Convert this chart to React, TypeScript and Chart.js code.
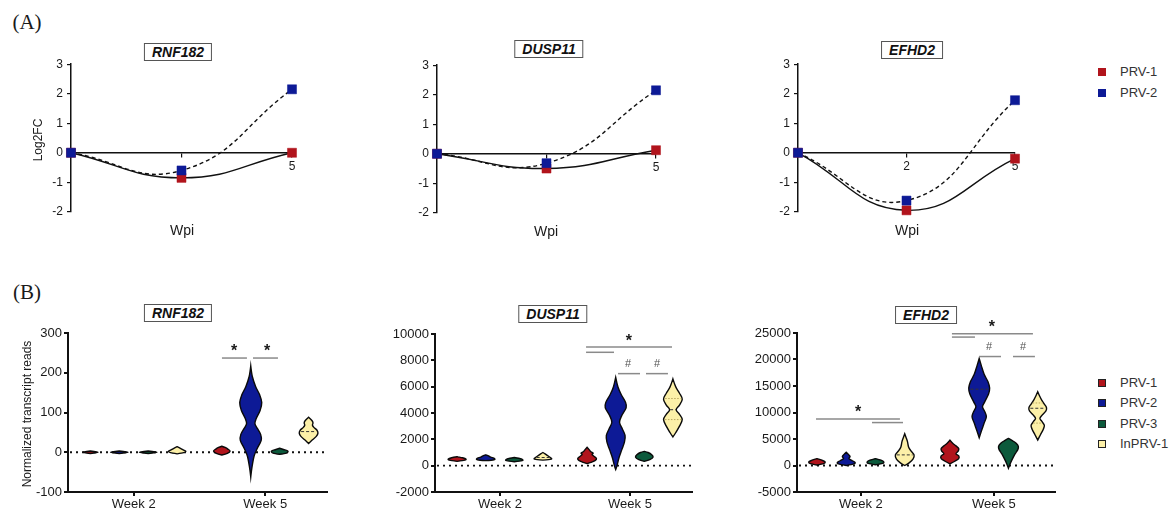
import React, { useEffect, useRef } from 'react';
import { Chart, registerables } from 'chart.js';

Chart.register(...registerables);

const SANS = '"Liberation Sans", Arial, Helvetica, sans-serif';
const SERIF = '"Liberation Serif", "Times New Roman", serif';

const RED = '#b1141c';
const BLUE = '#0d1a96';
const GREEN = '#0c5a3c';
const YELLOW = '#fcf0a8';
const GROUP_COLORS = [RED, BLUE, GREEN, YELLOW];
const GROUP_NAMES = ['PRV-1', 'PRV-2', 'PRV-3', 'InPRV-1'];

// ---------------- Panel A data (Log2FC by weeks post infection) ----------------
const wpiLabels = ['0', '2', '5'];
const log2fcTicks = [-2, -1, 0, 1, 2, 3];
const rnf182Prv1 = [0, -0.85, 0];
const rnf182Prv2 = [0, -0.6, 2.15];
const dusp11Prv1 = [0, -0.5, 0.12];
const dusp11Prv2 = [0, -0.32, 2.15];
const efhd2Prv1 = [0, -1.95, -0.2];
const efhd2Prv2 = [0, -1.62, 1.78];

// ---------------- Panel B data (violins: [value, relative density]) ----------------
type Profile = [number, number][];
const weekTickValues = [1, 2];
const weekTickLabels = ['Week 2', 'Week 5'];

const rnf182Ticks = [-100, 0, 100, 200, 300];
const rnf182Week2: Profile[] = [
  [[-3, 0], [0, 0.7], [3, 0]],
  [[-3, 0], [0, 0.8], [3, 0]],
  [[-3, 0], [0, 0.8], [3, 0]],
  [[-4, 0], [-1, 0.6], [2, 0.8], [6, 0.55], [10, 0.3], [14, 0]],
];
const rnf182Week5: Profile[] = [
  [[-7, 0], [-3, 0.5], [3, 0.75], [8, 0.55], [12, 0.3], [15, 0]],
  [[-62, 0], [-40, 0.1], [-10, 0.3], [10, 0.6], [30, 0.95], [45, 0.9], [60, 0.6], [72, 0.38], [85, 0.5], [105, 0.85], [125, 1.0], [145, 0.8], [165, 0.45], [190, 0.15], [217, 0]],
  [[-5, 0], [-2, 0.6], [3, 0.75], [7, 0.35], [10, 0]],
  [[22, 0], [30, 0.3], [40, 0.7], [48, 0.85], [56, 0.75], [62, 0.5], [68, 0.35], [74, 0.4], [80, 0.3], [88, 0]],
];
const rnf182Medians: [number, number, number][] = [[2, 3, 52]];
const rnf182Quartiles: [number, number, number][] = [];
const rnf182Brackets: [number, number, number][] = [[1.671, 1.861, 237], [1.907, 2.097, 237]];
const rnf182Marks: [number, number, string][] = [[1.763, 262, '*'], [2.014, 262, '*']];

const dusp11Ticks = [-2000, 0, 2000, 4000, 6000, 8000, 10000];
const dusp11Week2: Profile[] = [
  [[330, 0], [420, 0.7], [500, 0.8], [600, 0.5], [680, 0]],
  [[380, 0], [450, 0.75], [550, 0.8], [650, 0.45], [750, 0.25], [820, 0]],
  [[300, 0], [380, 0.7], [470, 0.75], [560, 0.4], [620, 0]],
  [[420, 0], [500, 0.75], [600, 0.7], [750, 0.45], [900, 0.2], [1000, 0]],
];
const dusp11Week5: Profile[] = [
  [[150, 0], [250, 0.35], [400, 0.75], [550, 0.85], [700, 0.65], [850, 0.45], [950, 0.55], [1050, 0.35], [1200, 0.2], [1400, 0]],
  [[-300, 0], [0, 0.12], [600, 0.3], [1200, 0.55], [1800, 0.8], [2300, 0.85], [2800, 0.6], [3300, 0.35], [3800, 0.55], [4400, 0.95], [4800, 0.9], [5400, 0.5], [6000, 0.2], [6700, 0]],
  [[330, 0], [450, 0.5], [650, 0.8], [850, 0.65], [1000, 0.35], [1090, 0]],
  [[2180, 0], [2500, 0.25], [3000, 0.6], [3500, 0.85], [3900, 0.6], [4250, 0.3], [4600, 0.6], [5050, 0.85], [5500, 0.6], [6000, 0.25], [6590, 0]],
];
const dusp11Medians: [number, number, number][] = [[1, 3, 620], [2, 3, 4250]];
const dusp11Quartiles: [number, number, number][] = [[2, 3, 3500], [2, 3, 5100]];
const dusp11Brackets: [number, number, number][] = [[1.662, 2.323, 9020], [1.662, 1.877, 8610], [1.908, 2.077, 6990], [2.123, 2.292, 6990]];
const dusp11Marks: [number, number, string][] = [[1.992, 9730, '*'], [1.985, 7830, '#'], [2.208, 7830, '#']];

const efhd2Ticks = [-5000, 0, 5000, 10000, 15000, 20000, 25000];
const efhd2Week2: Profile[] = [
  [[100, 0], [350, 0.6], [650, 0.75], [950, 0.5], [1300, 0]],
  [[0, 0], [300, 0.7], [600, 0.8], [900, 0.55], [1300, 0.25], [1700, 0.35], [2100, 0.2], [2500, 0]],
  [[150, 0], [400, 0.65], [700, 0.75], [1000, 0.5], [1300, 0]],
  [[0, 0], [500, 0.4], [1200, 0.75], [2000, 0.85], [2800, 0.55], [3500, 0.35], [4500, 0.25], [5300, 0.12], [6000, 0]],
];
const efhd2Week5: Profile[] = [
  [[300, 0], [800, 0.45], [1300, 0.8], [1800, 0.8], [2200, 0.55], [2700, 0.75], [3200, 0.8], [3700, 0.55], [4200, 0.25], [4800, 0]],
  [[5250, 0], [6500, 0.2], [8000, 0.45], [9200, 0.65], [10200, 0.5], [11100, 0.3], [12000, 0.5], [13500, 0.85], [14600, 0.95], [15800, 0.8], [17200, 0.45], [18800, 0.2], [20200, 0]],
  [[-500, 0], [300, 0.15], [1200, 0.35], [2200, 0.6], [3000, 0.85], [3600, 0.9], [4200, 0.7], [4700, 0.35], [5100, 0]],
  [[4800, 0], [5800, 0.25], [6800, 0.5], [7600, 0.6], [8400, 0.35], [8900, 0.2], [9500, 0.4], [10300, 0.75], [10900, 0.8], [11600, 0.6], [12400, 0.35], [13200, 0.15], [13900, 0]],
];
const efhd2Medians: [number, number, number][] = [[1, 3, 2000], [2, 3, 10800], [2, 1, 14400]];
const efhd2Quartiles: [number, number, number][] = [[2, 3, 8000], [2, 3, 11800]];
const efhd2Brackets: [number, number, number][] = [[0.663, 1.294, 8790], [1.084, 1.317, 8100], [1.685, 2.294, 24860], [1.685, 1.858, 24230], [1.888, 2.054, 20560], [2.144, 2.309, 20560]];
const efhd2Marks: [number, number, string][] = [[0.979, 10680, '*'], [1.986, 26750, '*'], [1.964, 22590, '#'], [2.219, 22590, '#']];

// ---------------- styles ----------------
const GROUP_STEP = 0.22; // x-axis units between violins of a week
const VIOLIN_HALF_PX = 11;

type Area = { l: number; r: number; t: number; b: number };

function FoldChangePanel({ area, prv1, prv2, shown }: { area: Area; prv1: number[]; prv2: number[]; shown: string[] }) {
  const ref = useRef<HTMLCanvasElement | null>(null);
  const YW = 30;
  const pad = { left: 4, right: 14, top: 10, bottom: 10 };
  const width = area.r - area.l + YW + pad.left + pad.right;
  const height = area.b - area.t + pad.top + pad.bottom;
  useEffect(() => {
    const tickFont = { family: SANS, size: 12 };
    const chart = new Chart(ref.current as HTMLCanvasElement, {
      type: 'line',
      data: {
        labels: wpiLabels,
        datasets: [
          {
            label: 'PRV-2', data: prv2, order: 0, borderColor: '#111', borderWidth: 1.4, borderDash: [4, 3],
            tension: 0.45, pointStyle: 'rect', pointRadius: 6.4, pointBackgroundColor: BLUE, pointBorderColor: BLUE,
            pointBorderWidth: 0.5, clip: false, fill: false,
          } as any,
          {
            label: 'PRV-1', data: prv1, order: 1, borderColor: '#111', borderWidth: 1.4,
            tension: 0.45, pointStyle: 'rect', pointRadius: 6.4, pointBackgroundColor: RED, pointBorderColor: RED,
            pointBorderWidth: 0.5, clip: false, fill: false,
          } as any,
        ],
      },
      options: {
        animation: false,
        responsive: false,
        maintainAspectRatio: false,
        layout: { padding: pad },
        plugins: { legend: { display: false }, tooltip: { enabled: false } },
        scales: {
          x: {
            type: 'category',
            position: { y: 0 } as any,
            offset: false,
            grid: { display: true, drawOnChartArea: false, drawTicks: true, tickLength: 4, color: '#111', lineWidth: 1.2 },
            border: { display: true, color: '#111', width: 1.5 },
            ticks: {
              autoSkip: false, maxRotation: 0, padding: 3, color: '#1a1a1a', font: tickFont,
              callback: (_v: any, i: number) => (shown.includes(wpiLabels[i]) ? wpiLabels[i] : ''),
            },
          },
          y: {
            type: 'linear',
            min: log2fcTicks[0],
            max: log2fcTicks[log2fcTicks.length - 1],
            afterBuildTicks: (s: any) => { s.ticks = log2fcTicks.map((v) => ({ value: v })); },
            afterFit: (s: any) => { s.width = YW; },
            grid: { display: true, drawOnChartArea: false, drawTicks: true, tickLength: 4, color: '#111', lineWidth: 1.2 },
            border: { display: true, color: '#111', width: 1.5 },
            ticks: { padding: 4, color: '#1a1a1a', font: tickFont },
          },
        },
      } as any,
    });
    return () => chart.destroy();
  }, []);
  return (
    <canvas
      ref={ref}
      width={width}
      height={height}
      style={{ position: 'absolute', left: area.l - YW - pad.left, top: area.t - pad.top, width, height }}
    />
  );
}

function catmullClosed(ctx: CanvasRenderingContext2D, pts: [number, number, boolean][]) {
  const n = pts.length;
  const tan = pts.map((p, i) => {
    if (p[2]) return [0, 0];
    const a = pts[(i - 1 + n) % n];
    const b = pts[(i + 1) % n];
    return [(b[0] - a[0]) / 6, (b[1] - a[1]) / 6];
  });
  ctx.moveTo(pts[0][0], pts[0][1]);
  for (let i = 0; i < n; i++) {
    const p1 = pts[i];
    const p2 = pts[(i + 1) % n];
    const t1 = tan[i];
    const t2 = tan[(i + 1) % n];
    ctx.bezierCurveTo(p1[0] + t1[0], p1[1] + t1[1], p2[0] - t2[0], p2[1] - t2[1], p2[0], p2[1]);
  }
  ctx.closePath();
}

function densityAt(profile: Profile, v: number) {
  for (let i = 0; i < profile.length - 1; i++) {
    const [a, da] = profile[i];
    const [b, db] = profile[i + 1];
    if (v >= a && v <= b) return da + ((db - da) * (v - a)) / (b - a);
  }
  return 0;
}

type ViolinProps = {
  area: Area;
  xMin: number;
  xMax: number;
  yTicks: number[];
  week2: Profile[];
  week5: Profile[];
  medians: [number, number, number][];
  quartiles: [number, number, number][];
  brackets: [number, number, number][];
  marks: [number, number, string][];
};

function ViolinPanel(props: ViolinProps) {
  const { area, xMin, xMax, yTicks, week2, week5, medians, quartiles, brackets, marks } = props;
  const ref = useRef<HTMLCanvasElement | null>(null);
  const YW = 45;
  const XH = 22;
  const pad = { left: 2, right: 12, top: 24, bottom: 0 };
  const width = area.r - area.l + YW + pad.left + pad.right;
  const height = area.b - area.t + pad.top + pad.bottom + XH;
  useEffect(() => {
    const tickFont = { family: SANS, size: 13 };
    const weeks = [week2, week5];
    const plugin = {
      id: 'violins',
      afterDatasetsDraw(chart: any) {
        const ctx: CanvasRenderingContext2D = chart.ctx;
        const xs = chart.scales.x;
        const ys = chart.scales.y;
        const ca = chart.chartArea;
        ctx.save();
        // dotted zero line
        ctx.beginPath();
        ctx.setLineDash([2, 4]);
        ctx.lineWidth = 1.8;
        ctx.strokeStyle = '#111';
        const y0 = ys.getPixelForValue(0);
        ctx.moveTo(ca.left + 2, y0);
        ctx.lineTo(ca.right, y0);
        ctx.stroke();
        ctx.setLineDash([]);
        // violins
        const centerOf = (week: number, g: number) => xs.getPixelForValue(weekTickValues[week - 1] + (g - 1.5) * GROUP_STEP);
        weeks.forEach((profiles, wi) => {
          profiles.forEach((profile, g) => {
            const cx = centerOf(wi + 1, g);
            const right: [number, number, boolean][] = profile.map(([v, d]) => [cx + d * VIOLIN_HALF_PX, ys.getPixelForValue(v), d === 0]);
            const left: [number, number, boolean][] = profile
              .slice(1, -1)
              .reverse()
              .map(([v, d]) => [cx - d * VIOLIN_HALF_PX, ys.getPixelForValue(v), false]);
            const pts = right.concat(left);
            ctx.beginPath();
            catmullClosed(ctx, pts);
            ctx.fillStyle = GROUP_COLORS[g];
            ctx.fill();
            ctx.lineWidth = 1.4;
            ctx.strokeStyle = '#0a0a0a';
            ctx.stroke();
          });
        });
        const drawInner = (list: [number, number, number][], dash: number[], color: string) => {
          list.forEach(([week, g, v]) => {
            const profile = weeks[week - 1][g];
            const cx = centerOf(week, g);
            const w = densityAt(profile, v) * VIOLIN_HALF_PX * 0.85;
            const py = ys.getPixelForValue(v);
            ctx.beginPath();
            ctx.setLineDash(dash);
            ctx.lineWidth = 1;
            ctx.strokeStyle = color;
            ctx.moveTo(cx - w, py);
            ctx.lineTo(cx + w, py);
            ctx.stroke();
          });
          ctx.setLineDash([]);
        };
        drawInner(quartiles, [1.5, 1.5], '#b9a860');
        drawInner(medians, [3, 2], '#333');
        // significance brackets
        ctx.strokeStyle = '#8a8a8a';
        ctx.lineWidth = 1.5;
        brackets.forEach(([x1, x2, v]) => {
          const py = ys.getPixelForValue(v);
          ctx.beginPath();
          ctx.moveTo(xs.getPixelForValue(x1), py);
          ctx.lineTo(xs.getPixelForValue(x2), py);
          ctx.stroke();
        });
        ctx.textAlign = 'center';
        ctx.textBaseline = 'alphabetic';
        marks.forEach(([x, v, t]) => {
          const px = xs.getPixelForValue(x);
          const py = ys.getPixelForValue(v);
          if (t === '*') {
            ctx.font = `bold 16px ${SANS}`;
            ctx.fillStyle = '#1a1a1a';
            ctx.fillText(t, px, py + 8);
          } else {
            ctx.font = `11px ${SANS}`;
            ctx.fillStyle = '#555';
            ctx.fillText(t, px, py + 4);
          }
        });
        ctx.restore();
      },
    };
    const chart = new Chart(ref.current as HTMLCanvasElement, {
      type: 'scatter',
      data: { datasets: [] },
      options: {
        animation: false,
        responsive: false,
        maintainAspectRatio: false,
        layout: { padding: pad },
        plugins: { legend: { display: false }, tooltip: { enabled: false } },
        scales: {
          x: {
            type: 'linear',
            min: xMin,
            max: xMax,
            afterBuildTicks: (s: any) => { s.ticks = weekTickValues.map((v) => ({ value: v })); },
            afterFit: (s: any) => { s.height = XH; },
            grid: { display: true, drawOnChartArea: false, drawTicks: true, tickLength: 4, color: '#111', lineWidth: 2 },
            border: { display: true, color: '#111', width: 2 },
            ticks: {
              autoSkip: false, maxRotation: 0, padding: 1, color: '#1a1a1a', font: tickFont,
              callback: (v: any) => weekTickLabels[weekTickValues.indexOf(Number(v))] ?? '',
            },
          },
          y: {
            type: 'linear',
            min: yTicks[0],
            max: yTicks[yTicks.length - 1],
            afterBuildTicks: (s: any) => { s.ticks = yTicks.map((v) => ({ value: v })); },
            afterFit: (s: any) => { s.width = YW; },
            grid: { display: true, drawOnChartArea: false, drawTicks: true, tickLength: 4, color: '#111', lineWidth: 2 },
            border: { display: true, color: '#111', width: 2 },
            ticks: { padding: 2, color: '#1a1a1a', font: tickFont, callback: (v: any) => String(v) },
          },
        },
      } as any,
      plugins: [plugin],
    });
    return () => chart.destroy();
  }, []);
  return (
    <canvas
      ref={ref}
      width={width}
      height={height}
      style={{ position: 'absolute', left: area.l - YW - pad.left, top: area.t - pad.top, width, height }}
    />
  );
}

function TitleBox({ x, y, text }: { x: number; y: number; text: string }) {
  return (
    <div
      style={{
        position: 'absolute', left: x, top: y, transform: 'translate(-50%, -50%)',
        border: '1px solid #555', padding: '0 7px', font: `italic bold 14px ${SANS}`, lineHeight: '16px',
        background: '#fff', color: '#111', whiteSpace: 'nowrap',
      }}
    >
      {text}
    </div>
  );
}

function Label({ x, y, text, size, rotate, family }: { x: number; y: number; text: string; size: number; rotate?: boolean; family?: string }) {
  return (
    <div
      style={{
        position: 'absolute', left: x, top: y,
        transform: `translate(-50%, -50%)${rotate ? ' rotate(-90deg)' : ''}`,
        font: `${size}px ${family || SANS}`, color: '#1a1a1a', whiteSpace: 'nowrap', lineHeight: `${size + 2}px`,
      }}
    >
      {text}
    </div>
  );
}

function Legend({ x, ys, names, colors, border }: { x: number; ys: number[]; names: string[]; colors: string[]; border: boolean }) {
  return (
    <>
      {names.map((n, i) => (
        <React.Fragment key={n}>
          <div
            style={{
              position: 'absolute', left: x - 4, top: ys[i] - 4, width: border ? 6 : 8, height: border ? 6 : 8,
              background: colors[i], border: border ? '1px solid #222' : 'none',
            }}
          />
          <div style={{ position: 'absolute', left: x + 18, top: ys[i] - 8, font: `13px ${SANS}`, lineHeight: '16px', color: '#333', whiteSpace: 'nowrap' }}>
            {n}
          </div>
        </React.Fragment>
      ))}
    </>
  );
}

export default function App() {
  return (
    <div style={{ position: 'absolute', left: 0, top: 0, width: 1174, height: 510, background: '#fff', overflow: 'hidden' }}>
      <FoldChangePanel area={{ l: 71, r: 292, t: 63, b: 213 }} prv1={rnf182Prv1} prv2={rnf182Prv2} shown={['5']} />
      <FoldChangePanel area={{ l: 437, r: 656, t: 64, b: 214 }} prv1={dusp11Prv1} prv2={dusp11Prv2} shown={['5']} />
      <FoldChangePanel area={{ l: 798, r: 1015, t: 63, b: 213 }} prv1={efhd2Prv1} prv2={efhd2Prv2} shown={['2', '5']} />

      <ViolinPanel area={{ l: 68, r: 327, t: 333, b: 492 }} xMin={0.5} xMax={2.47} yTicks={rnf182Ticks}
        week2={rnf182Week2} week5={rnf182Week5} medians={rnf182Medians} quartiles={rnf182Quartiles}
        brackets={rnf182Brackets} marks={rnf182Marks} />
      <ViolinPanel area={{ l: 435, r: 692, t: 334, b: 492 }} xMin={0.5} xMax={2.477} yTicks={dusp11Ticks}
        week2={dusp11Week2} week5={dusp11Week5} medians={dusp11Medians} quartiles={dusp11Quartiles}
        brackets={dusp11Brackets} marks={dusp11Marks} />
      <ViolinPanel area={{ l: 797, r: 1055, t: 333, b: 492 }} xMin={0.52} xMax={2.46} yTicks={efhd2Ticks}
        week2={efhd2Week2} week5={efhd2Week5} medians={efhd2Medians} quartiles={efhd2Quartiles}
        brackets={efhd2Brackets} marks={efhd2Marks} />

      <Label x={27} y={22} text="(A)" size={21} family={SERIF} />
      <Label x={27} y={292} text="(B)" size={21} family={SERIF} />

      <TitleBox x={178} y={52} text="RNF182" />
      <TitleBox x={549} y={49} text="DUSP11" />
      <TitleBox x={912} y={50} text="EFHD2" />
      <TitleBox x={178} y={313} text="RNF182" />
      <TitleBox x={553} y={314} text="DUSP11" />
      <TitleBox x={926} y={315} text="EFHD2" />

      <Label x={38} y={140} text="Log2FC" size={12} rotate />
      <Label x={182} y={230} text="Wpi" size={14} />
      <Label x={546} y={231} text="Wpi" size={14} />
      <Label x={907} y={230} text="Wpi" size={14} />
      <Label x={27} y={414} text="Normalized transcript reads" size={12} rotate />

      <Legend x={1102} ys={[72, 93]} names={GROUP_NAMES.slice(0, 2)} colors={GROUP_COLORS.slice(0, 2)} border={false} />
      <Legend x={1102} ys={[383, 403, 424, 444]} names={GROUP_NAMES} colors={GROUP_COLORS} border />
    </div>
  );
}
